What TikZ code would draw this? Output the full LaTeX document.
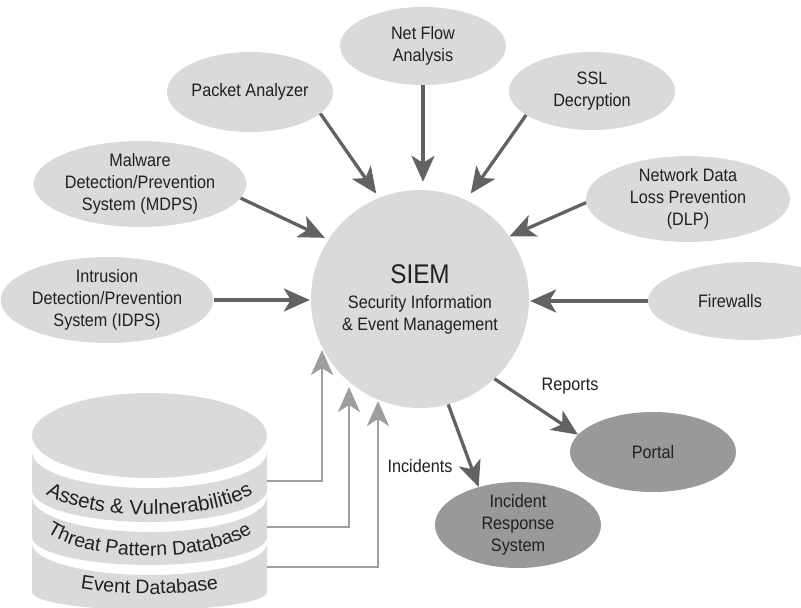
\documentclass[tikz,border=0pt]{standalone}
\usepackage{fontspec}
\setmainfont{Liberation Sans}[FakeStretch=0.9]
\newfontfamily\dbfamily{Liberation Sans}
\usetikzlibrary{shapes.geometric,arrows.meta,decorations.text}

\definecolor{lightfill}{RGB}{218,218,218}
\definecolor{darkfill}{RGB}{153,153,153}
\definecolor{arrowdark}{RGB}{98,98,98}
\definecolor{arrowlight}{RGB}{158,158,158}
\definecolor{inkc}{RGB}{35,31,32}

\newcommand\labelfont{\fontsize{18}{22}\selectfont}
\newcommand\dbfontA{\dbfamily\fontsize{20.5}{24}\selectfont\color{inkc}}
\newcommand\dbfontB{\dbfamily\fontsize{19.5}{23}\selectfont\color{inkc}}

\tikzset{
  src/.style={ellipse, fill=lightfill, inner sep=0pt, align=center,
              text=inkc, font=\labelfont},
  sink/.style={src, fill=darkfill},
  feed/.style={draw=arrowdark, line width=3.3pt,
               -{Stealth[length=26pt,width=23pt,inset=7pt]}},
  dbfeed/.style={draw=arrowlight, line width=2.7pt,
               -{Stealth[length=25pt,width=22pt,inset=7pt]}},
  tag/.style={text=inkc, font=\labelfont, inner sep=0pt},
  layer/.style={fill=lightfill},
}

\begin{document}
\begin{tikzpicture}[x=1pt,y=-1pt]
\clip (0,0) rectangle (801,608);

% central SIEM hub
\node[circle, fill=lightfill, minimum size=218pt, inner sep=0pt,
      align=center, text=inkc, font=\labelfont] (siem) at (420,299)
  {{\fontsize{27}{27}\selectfont SIEM}\\[3pt]
   Security Information\\ \& Event Management};

% data sources
\node[src, minimum width=166pt, minimum height=78pt] (netflow) at (423,46)
  {Net Flow\\Analysis};
\node[src, minimum width=166pt, minimum height=80pt] (packet) at (250,92)
  {Packet Analyzer};
\node[src, minimum width=166pt, minimum height=78pt] (ssl) at (592,91)
  {SSL\\Decryption};
\node[src, minimum width=200pt, minimum height=78pt] (malware) at (140,184)
  {Malware\\Detection/Prevention\\System (MDPS)};
\node[src, minimum width=200pt, minimum height=76pt] (idps) at (107,300)
  {Intrusion\\Detection/Prevention\\System (IDPS)};
\node[src, minimum width=204pt, minimum height=78pt] (dlp) at (688,199)
  {Network Data\\Loss Prevention\\(DLP)};
\node[src, minimum width=204pt, minimum height=78pt] (fw) at (750,301) {};
\node[tag] (fwtext) at (730,301) {Firewalls};

% outputs
\node[sink, minimum width=166pt, minimum height=80pt] (portal) at (653,452)
  {Portal};
\node[sink, minimum width=166pt, minimum height=80pt] (irs) at (518,525)
  {Incident\\Response\\System};

% incoming feeds
\draw[feed, shorten >=8pt] (netflow.south) -- (netflow.south |- siem.north);
\draw[feed, shorten >=5pt] (packet.-17) -- (siem.112);
\draw[feed, shorten >=8pt] (ssl.200) -- (siem.65);
\draw[feed, shorten >=4pt] (malware.-8) -- (siem.147);
\draw[feed, shorten >=1pt] (idps.east) -- (idps.east -| siem.west);
\draw[feed] (dlp.182) -- (siem.35);
\draw[feed, shorten >=1pt] (fw.west) -- (fw.west -| siem.east);

% outgoing results
\draw[feed] (siem.-47) -- (portal.167);
\draw[feed] (siem.-75) -- (irs.136);
\node[tag] (reports) at (570,386) {Reports};
\node[tag] (incidents) at (420,466) {Incidents};

% stacked database cylinder
\fill[layer] (149.5,435.5) ellipse [x radius=117.5pt, y radius=42.5pt];
\fill[layer] (32,452) arc[start angle=180, end angle=360, x radius=117.5pt, y radius=36pt]
  -- (267,490) arc[start angle=0, end angle=-180, x radius=117.5pt, y radius=32pt] -- cycle;
\fill[layer] (32,497) arc[start angle=180, end angle=360, x radius=117.5pt, y radius=35pt]
  -- (267,537) arc[start angle=0, end angle=-180, x radius=117.5pt, y radius=28pt] -- cycle;
\fill[layer] (32,543) arc[start angle=180, end angle=360, x radius=117.5pt, y radius=32pt]
  -- (267,592) arc[start angle=0, end angle=-180, x radius=117.5pt, y radius=18pt] -- cycle;

% curved layer captions
\path[decorate, decoration={text along path, text align=center,
      text={|\dbfontA|Assets {\&} Vulnerabilities}}]
  (32,475) arc[start angle=180, end angle=360, x radius=117.5pt, y radius=40pt];
\path[decorate, decoration={text along path, text align=center,
      text={|\dbfontB|Threat Pattern Database}}]
  (32,511) arc[start angle=180, end angle=360, x radius=117.5pt, y radius=45pt];
\path[decorate, decoration={text along path, text align=center,
      text={|\dbfontB|Event Database}}]
  (32,567) arc[start angle=180, end angle=360, x radius=117.5pt, y radius=27pt];

% database feeds into the hub
\coordinate (dbA) at (267,481);
\coordinate (dbT) at (267,527);
\coordinate (dbE) at (267,567);
\coordinate (inA) at (322,350);
\coordinate (inT) at (349,387);
\coordinate (inE) at (378,401);
\draw[dbfeed] (dbA) -| (inA);
\draw[dbfeed] (dbT) -| (inT);
\draw[dbfeed] (dbE) -| (inE);
\end{tikzpicture}
\end{document}
